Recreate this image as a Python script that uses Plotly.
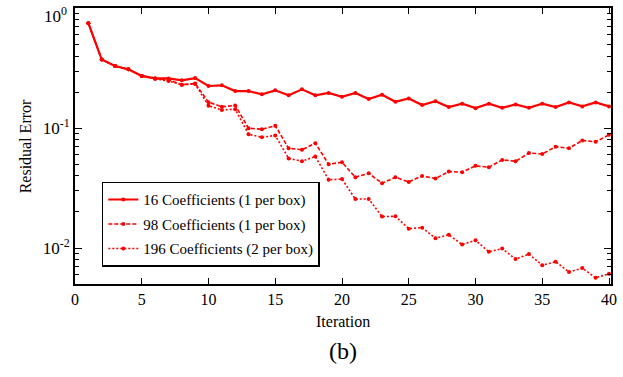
import plotly.graph_objects as go

iterations = list(range(1, 41))

coef16 = [0.752, 0.374, 0.330, 0.310, 0.273, 0.261, 0.260, 0.251, 0.262, 0.225,
          0.228, 0.204, 0.204, 0.192, 0.207, 0.188, 0.211, 0.188, 0.197, 0.183,
          0.197, 0.175, 0.190, 0.166, 0.177, 0.156, 0.168, 0.150, 0.160, 0.147,
          0.160, 0.148, 0.158, 0.148, 0.160, 0.150, 0.164, 0.152, 0.164, 0.152]

coef98 = [0.752, 0.374, 0.330, 0.310, 0.273, 0.259, 0.253, 0.231, 0.236, 0.165,
          0.151, 0.155, 0.100, 0.098, 0.105, 0.068, 0.066, 0.075, 0.050, 0.052,
          0.039, 0.042, 0.0347, 0.039, 0.0356, 0.040, 0.038, 0.0435, 0.043, 0.0485,
          0.0473, 0.0544, 0.053, 0.062, 0.061, 0.070, 0.068, 0.079, 0.077, 0.088]

coef196 = [0.752, 0.374, 0.330, 0.310, 0.273, 0.258, 0.248, 0.230, 0.234, 0.154,
           0.142, 0.144, 0.089, 0.084, 0.087, 0.056, 0.053, 0.058, 0.0372, 0.0376,
           0.0256, 0.0257, 0.0183, 0.0184, 0.0145, 0.0148, 0.0121, 0.0129, 0.0107, 0.0116,
           0.0093, 0.0099, 0.0081, 0.0089, 0.0072, 0.0077, 0.0063, 0.0068, 0.00565, 0.0061]

series_names = ["16 Coefficients (1 per box)",
                "98 Coefficients (1 per box)",
                "196 Coefficients (2 per box)"]

x_ticks = [0, 5, 10, 15, 20, 25, 30, 35, 40]
y_ticks = [1, 0.1, 0.01]
y_ticktext = ["10<sup>0</sup>", "10<sup>-1</sup>", "10<sup>-2</sup>"]

RED = "#ff0000"
FONT = "Liberation Serif"

fig = go.Figure()
styles = [("solid", 2.2), ("4px,2px", 1.6), ("2px,2px", 1.6)]
for i, (ys, name) in enumerate(zip([coef16, coef98, coef196], series_names)):
    dash, w = styles[i]
    fig.add_trace(go.Scatter(
        x=iterations, y=ys, name=name, mode="lines+markers",
        line=dict(color=RED, width=w, dash=dash),
        marker=dict(color=RED, size=4),
        legendgroup=f"g{i}",
    ))

minor_vals = []
for dec in [0.001, 0.01, 0.1]:
    for k in range(2, 10):
        minor_vals.append(k * dec)

plot_w = 623 - 75 - 8
plot_h = 377 - 6 - 93
def px_to_paper(px, py):
    return (px - 75) / plot_w, (377 - 93 - py) / plot_h

lx, ly = px_to_paper(102, 181)
a1 = px_to_paper(25, 145)
a2 = px_to_paper(345, 322)
a3 = px_to_paper(345, 351)
a0 = px_to_paper(69, 13)

fig.update_layout(
    width=623, height=377,
    margin=dict(l=75, r=8, t=6, b=93),
    paper_bgcolor="white", plot_bgcolor="white",
    font=dict(family=FONT, size=15, color="black"),
    showlegend=True,
    legend=dict(
        x=lx, y=ly, xanchor="left", yanchor="top",
        bordercolor="black", borderwidth=1.5, bgcolor="white",
        font=dict(family=FONT, size=15),
        tracegroupgap=2, traceorder="grouped", itemwidth=30,
    ),
    xaxis=dict(
        range=[0, 40.15], tickvals=x_ticks, ticks="inside", ticklen=6,
        tickwidth=1, tickcolor="black", showline=True, linecolor="black",
        linewidth=2, mirror="ticks", showgrid=False, zeroline=False,
        tickfont=dict(family=FONT, size=16),
    ),
    yaxis=dict(
        type="log", range=[-2.3, 0.003], tickvals=y_ticks[1:], ticktext=y_ticktext[1:],
        ticks="inside", ticklen=7, tickwidth=1, tickcolor="black",
        showline=True, linecolor="black", linewidth=2, mirror="ticks",
        showgrid=False, zeroline=False,
        tickfont=dict(family=FONT, size=17),
        minor=dict(tickvals=minor_vals, ticks="inside", ticklen=4,
                   tickcolor="black", tickwidth=1, showgrid=False),
    ),
    annotations=[
        dict(text=y_ticktext[0], x=a0[0], y=a0[1], xref="paper", yref="paper",
             xanchor="right", yanchor="middle",
             showarrow=False, font=dict(family=FONT, size=17)),
        dict(text="Residual Error", x=a1[0], y=a1[1], xref="paper", yref="paper",
             xanchor="center", yanchor="middle",
             showarrow=False, textangle=-90, font=dict(family=FONT, size=16)),
        dict(text="Iteration", x=a2[0], y=a2[1], xref="paper", yref="paper",
             xanchor="center", yanchor="middle",
             showarrow=False, font=dict(family=FONT, size=16)),
        dict(text="(b)", x=a3[0], y=a3[1], xref="paper", yref="paper",
             xanchor="center", yanchor="middle",
             showarrow=False, font=dict(family=FONT, size=24)),
    ],
)
# major tick for 10^0 drawn via a short shape along the top-left corner is the axis line itself

fig.write_html("out.html")
